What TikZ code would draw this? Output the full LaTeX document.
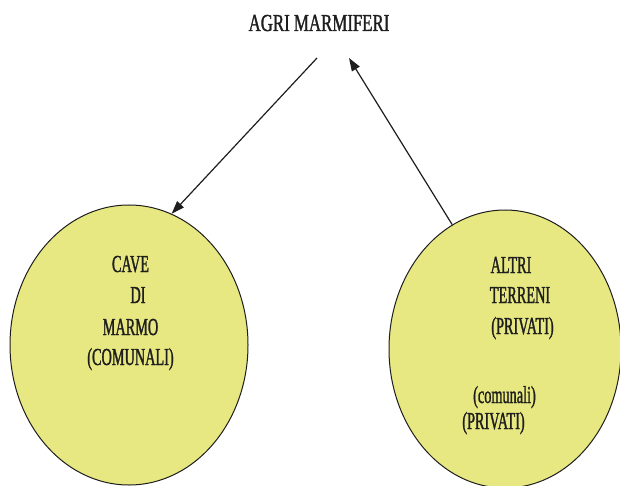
\documentclass[tikz,border=0pt]{standalone}
\usepackage{fontspec}
\setmainfont{Liberation Serif}
\newfontfamily\titlefont[FakeStretch=0.69,FakeBold=1.2]{Liberation Serif}
\newfontfamily\circfont[FakeStretch=0.585,FakeBold=1.2]{Liberation Serif}
\usetikzlibrary{shapes.geometric,arrows.meta}
\definecolor{blobfill}{RGB}{232,232,130}
\definecolor{ink}{RGB}{30,30,30}
\begin{document}
\begin{tikzpicture}[x=1pt,y=-1pt,
  blob/.style={ellipse,draw=ink,line width=1pt,fill=blobfill,inner sep=0pt},
  lbl/.style={anchor=base,inner sep=0pt,font=\circfont\fontsize{24.4}{28}\selectfont,text=ink},
  conn/.style={draw=ink,line width=1.2pt,-{Triangle[length=13pt,width=9pt]}}]
\useasboundingbox (0,0) rectangle (620,486);
\fill[white] (0,0) rectangle (620,486);
\node[anchor=base,inner sep=0pt,font=\titlefont\fontsize{24.4}{28}\selectfont,text=ink] (title) at (319,31) {AGRI MARMIFERI};
\node[blob,minimum width=238pt,minimum height=280pt] (cave) at (129,345) {};
\node[blob,minimum width=232pt,minimum height=278pt] (alt) at (505,349) {};
\node[lbl] (l1) at (130.5,272) {CAVE};
\node[lbl] (l2) at (138,303) {DI};
\node[lbl] (l3) at (130.5,335) {MARMO};
\node[lbl] (l4) at (130.5,365) {(COMUNALI)};
\node[lbl] (r1) at (511,273) {ALTRI};
\node[lbl] (r2) at (520,303) {TERRENI};
\node[lbl] (r3) at (522.5,334) {(PRIVATI)};
\node[lbl] (r4) at (504.5,403) {(comunali)};
\node[lbl] (r5) at (493.5,429) {(PRIVATI)};
\coordinate (s1) at (317,58);
\coordinate (e2) at (349,58);
\draw[conn] (s1) -- (cave.72);
\draw[conn] (alt.113) -- (e2);
\end{tikzpicture}
\end{document}
